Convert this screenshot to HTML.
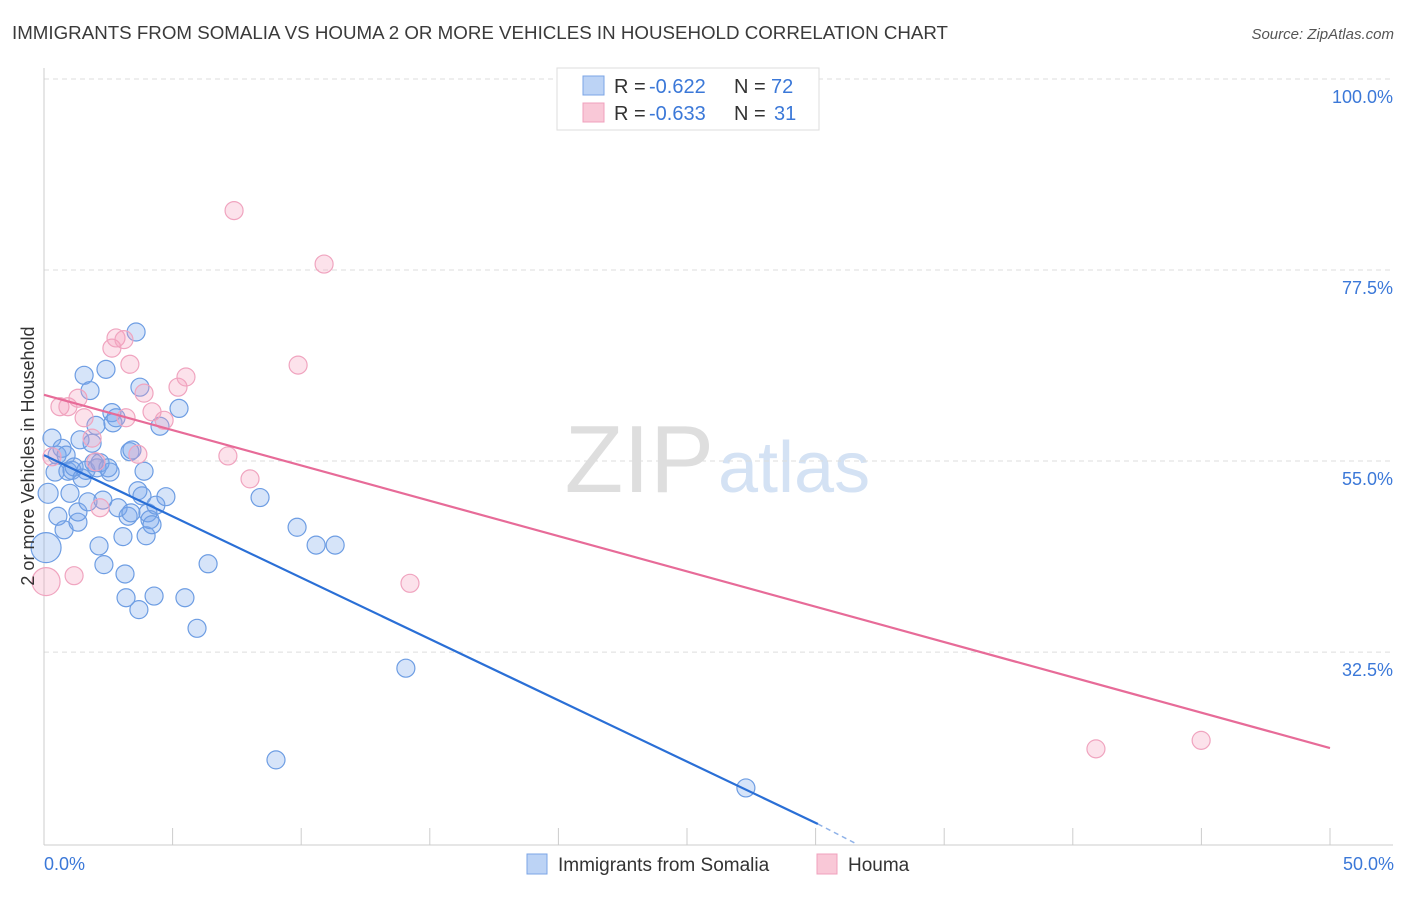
<!DOCTYPE html>
<html><head><meta charset="utf-8"><style>
body{margin:0;background:#fff;font-family:"Liberation Sans",sans-serif;}
svg text{font-family:"Liberation Sans",sans-serif;}
</style></head><body>
<svg id="chart" width="1406" height="892" xmlns="http://www.w3.org/2000/svg">
<text x="12" y="39" font-size="18" fill="#3a3a3a" textLength="936" lengthAdjust="spacingAndGlyphs">IMMIGRANTS FROM SOMALIA VS HOUMA 2 OR MORE VEHICLES IN HOUSEHOLD CORRELATION CHART</text>
<text x="1394" y="39" font-size="15" fill="#555" font-style="italic" text-anchor="end">Source: ZipAtlas.com</text>
<text x="714" y="492" font-size="96" fill="#dedede" text-anchor="end" font-family="Liberation Serif">ZIP</text>
<text x="718" y="492" font-size="72" fill="#d4e2f4">atlas</text>
<g id="grid"></g>
<g id="axes"></g>
<g id="marks"></g>
<text transform="translate(34,456) rotate(-90)" font-size="18" fill="#333" text-anchor="middle">2 or more Vehicles in Household</text>
<text x="44" y="870" font-size="18" fill="#3b78d8">0.0%</text>
<text x="1394" y="870" font-size="18" fill="#3b78d8" text-anchor="end">50.0%</text>
<g>
<rect x="557" y="68" width="262" height="62" fill="#fff" stroke="#ddd"/>
<rect x="583" y="76" width="21" height="19" fill="#bcd3f5" stroke="#7ba4e6"/>
<rect x="583" y="103" width="21" height="19" fill="#f9c8d7" stroke="#f0a0bc"/>
<text x="614" y="93" font-size="20" fill="#333">R =</text>
<text x="649" y="93" font-size="20" fill="#3b78d8">-0.622</text>
<text x="734" y="93" font-size="20" fill="#333">N =</text>
<text x="771" y="93" font-size="20" fill="#3b78d8">72</text>
<text x="614" y="120" font-size="20" fill="#333">R =</text>
<text x="649" y="120" font-size="20" fill="#3b78d8">-0.633</text>
<text x="734" y="120" font-size="20" fill="#333">N =</text>
<text x="774" y="120" font-size="20" fill="#3b78d8">31</text>
</g>
<g>
<rect x="527" y="854" width="20" height="20" fill="#bcd3f5" stroke="#7ba4e6"/>
<text x="558" y="871" font-size="19" fill="#333">Immigrants from Somalia</text>
<rect x="817" y="854" width="20" height="20" fill="#f9c8d7" stroke="#f0a0bc"/>
<text x="848" y="871" font-size="19" fill="#333">Houma</text>
</g>
</svg>
<script>
const yTicks=[100,77.5,55,32.5];
const yTickLabels=["100.0%","77.5%","55.0%","32.5%"];
const xTicks=[0,5,10,15,20,25,30,35,40,45,50];
const blueX=[0.08,0.16,0.31,0.43,0.51,0.54,0.70,0.78,0.86,0.93,1.01,1.09,1.17,1.32,1.32,1.40,1.48,1.56,1.63,1.71,1.79,1.87,1.94,2.02,2.06,2.14,2.18,2.29,2.33,2.41,2.49,2.57,2.64,2.68,2.80,2.88,3.07,3.15,3.19,3.27,3.34,3.38,3.42,3.58,3.65,3.69,3.73,3.81,3.89,3.97,4.04,4.12,4.20,4.28,4.35,4.51,4.74,5.25,5.48,5.95,6.38,8.40,9.84,10.58,11.32,14.07,9.02,27.29];
const blueY=[44.8,51.2,57.7,53.7,55.7,48.5,56.5,46.9,55.7,53.8,51.2,53.9,54.3,47.8,49.0,57.5,53.0,65.1,53.9,50.2,63.3,57.1,54.8,59.2,54.2,45.0,54.8,50.4,42.8,65.8,54.2,53.7,60.7,59.5,60.1,49.5,46.1,41.7,38.9,48.5,56.1,48.9,56.3,70.2,51.5,37.5,63.7,50.9,53.8,46.2,48.9,48.1,47.5,39.1,49.8,59.1,50.8,61.2,38.9,35.3,42.9,50.7,47.2,45.1,45.1,30.6,19.8,16.5];
const blueR=[15,10,9,9,9,9,9,9,9,9,9,9,9,9,9,9,9,9,9,9,9,9,9,9,9,9,9,9,9,9,9,9,9,9,9,9,9,9,9,9,9,9,9,9,9,9,9,9,9,9,9,9,9,9,9,9,9,9,9,9,9,9,9,9,9,9,9,9];
const pinkX=[0.08,0.31,0.62,0.93,1.17,1.32,1.56,1.87,2.02,2.18,2.64,2.80,3.11,3.19,3.34,3.65,3.89,4.20,4.67,5.21,5.52,7.15,7.39,8.01,9.88,10.89,14.23,40.9,44.99];
const pinkY=[40.8,55.5,61.4,61.4,41.5,62.4,60.1,57.7,54.9,49.5,68.3,69.5,69.3,60.1,66.4,55.8,63.0,60.8,59.8,63.7,64.9,55.6,84.5,52.9,66.3,78.2,40.6,21.1,22.1];
const blueLine=[[0,55.7],[30.09,12.25]];
const blueDash=[[30.09,12.25],[31.53,10.0]];
const pinkLine=[[0,62.8],[50,21.2]];
const NS="http://www.w3.org/2000/svg";
const X=v=>44+v/50*1286;
const Y=v=>79+(100-v)*8.49;
function mk(tag,attrs,parent){const e=document.createElementNS(NS,tag);for(const k in attrs)e.setAttribute(k,attrs[k]);parent.appendChild(e);return e;}
const grid=document.getElementById('grid'),axes=document.getElementById('axes'),marks=document.getElementById('marks');
yTicks.forEach((t,i)=>{
 const l=mk('line',{x1:44,x2:1393,y1:Y(t),y2:Y(t),stroke:'#ddd','stroke-dasharray':'5,4'},grid);
 
 
 const tx=mk('text',{x:1393,y:Y(t)+24,'font-size':18,fill:'#3b78d8','text-anchor':'end'},grid);
 tx.textContent=yTickLabels[i];
 
 
});
const ax=mk('line',{x1:44,x2:1393,y1:845,y2:845,stroke:'#ccc'},axes);


const ay=mk('line',{x1:44,x2:44,y1:68,y2:845,stroke:'#ccc'},axes);


xTicks.forEach(t=>{
 const l=mk('line',{x1:X(t),x2:X(t),y1:828,y2:845,stroke:'#ccc'},axes);
 
 
});
blueX.forEach((x,i)=>{
 const c=mk('circle',{cx:X(x),cy:Y(blueY[i]),r:blueR[i],fill:'rgba(120,165,235,0.3)',stroke:'#6d9de3','stroke-width':1.2},marks);
 
 
});
pinkX.forEach((x,i)=>{
 const c=mk('circle',{cx:X(x),cy:Y(pinkY[i]),r:i==0?14:9,fill:'rgba(245,160,190,0.3)',stroke:'#f0a4bf','stroke-width':1.2},marks);
 
 
});
const bl=mk('line',{x1:X(blueLine[0][0]),y1:Y(blueLine[0][1]),x2:X(blueLine[1][0]),y2:Y(blueLine[1][1]),stroke:'#2a6fd6','stroke-width':2.2},marks);


const bd=mk('line',{x1:X(blueDash[0][0]),y1:Y(blueDash[0][1]),x2:X(blueDash[1][0]),y2:Y(blueDash[1][1]),stroke:'#8fb2e8','stroke-width':1.5,'stroke-dasharray':'5,4'},marks);


const pl=mk('line',{x1:X(pinkLine[0][0]),y1:Y(pinkLine[0][1]),x2:X(pinkLine[1][0]),y2:Y(pinkLine[1][1]),stroke:'#e76b98','stroke-width':2.2},marks);


</script>
</body></html>
